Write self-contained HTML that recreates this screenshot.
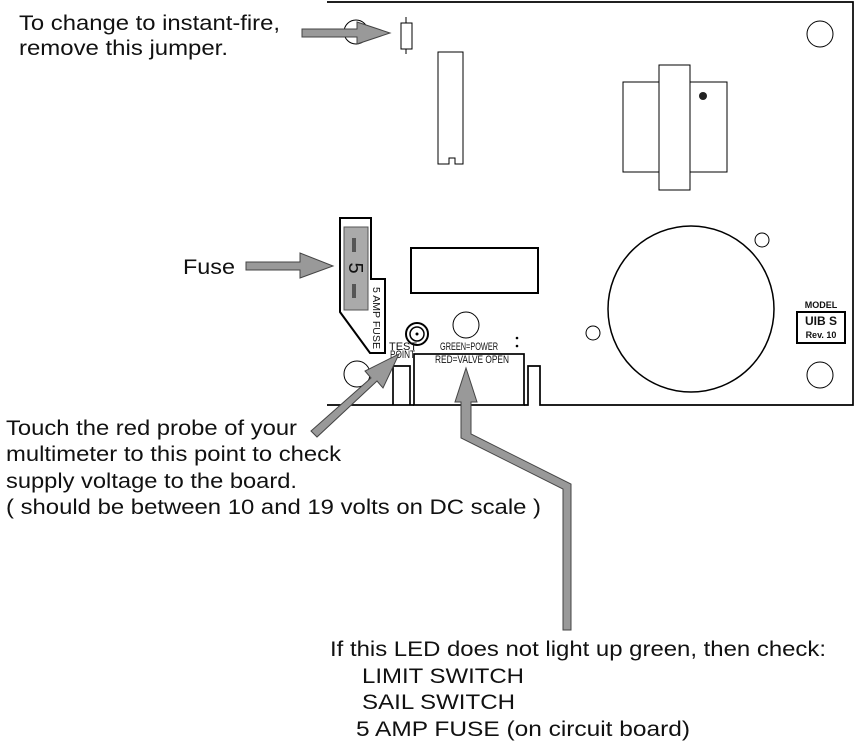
<!DOCTYPE html>
<html><head><meta charset="utf-8"><style>
html,body{margin:0;padding:0;background:#fff;}
svg{display:block;}
.t{font-family:"Liberation Sans",Arial,sans-serif;font-size:21px;fill:#111;}
.s{font-family:"Liberation Sans",Arial,sans-serif;fill:#111;}
</style></head><body>
<svg width="858" height="745" viewBox="0 0 858 745" xmlns="http://www.w3.org/2000/svg">
<path d="M327,2 H853 V405 H540 V366 H528 V405 H524 M414,405 H410 V366 H393 V405 H327 Z" fill="none" stroke="#000" stroke-width="1.7"/>
<rect x="414" y="354" width="110" height="51" fill="#fff" stroke="#000" stroke-width="1.7"/>
<circle cx="356" cy="32" r="12" fill="none" stroke="#000" stroke-width="1"/>
<circle cx="820" cy="34" r="13" fill="none" stroke="#000" stroke-width="1"/>
<circle cx="820" cy="375" r="13" fill="none" stroke="#000" stroke-width="1"/>
<circle cx="357" cy="374" r="13" fill="none" stroke="#000" stroke-width="1"/>
<circle cx="762" cy="240" r="7" fill="none" stroke="#000" stroke-width="1"/>
<circle cx="593" cy="333" r="7" fill="none" stroke="#000" stroke-width="1"/>
<circle cx="691" cy="309" r="83" fill="none" stroke="#000" stroke-width="1.5"/>
<line x1="406" y1="17" x2="406" y2="54" stroke="#000" stroke-width="1"/>
<rect x="401" y="23" width="11" height="26" fill="#fff" stroke="#000" stroke-width="1"/>
<path d="M438,52 H463 V164 H455 V158 H449 V164 H438 Z" fill="none" stroke="#000" stroke-width="1"/>
<rect x="623" y="82" width="104" height="90" fill="none" stroke="#000" stroke-width="1"/>
<rect x="659" y="65" width="31" height="125" fill="#fff" stroke="#000" stroke-width="1"/>
<circle cx="703" cy="96" r="4" fill="#222"/>
<rect x="411" y="248" width="127" height="45" fill="none" stroke="#000" stroke-width="2"/>
<path d="M340,218 H371 V279 H385 V353 H370 L340,312 Z" fill="#fff" stroke="#000" stroke-width="2"/>
<rect x="344" y="227" width="24" height="83" fill="#aaa" stroke="#555" stroke-width="1"/>
<rect x="352" y="238" width="4" height="14" fill="#555"/>
<rect x="352" y="284" width="4" height="14" fill="#555"/>
<text class="s" font-size="20" transform="translate(349,268) rotate(90)" text-anchor="middle">5</text>
<text class="s" font-size="10" transform="translate(373,287) rotate(90)" textLength="62" lengthAdjust="spacingAndGlyphs">5 AMP FUSE</text>
<circle cx="466" cy="325" r="13" fill="none" stroke="#000" stroke-width="1"/>
<circle cx="417" cy="334" r="11" fill="none" stroke="#000" stroke-width="2"/>
<circle cx="417" cy="334" r="7" fill="none" stroke="#000" stroke-width="1.5"/>
<circle cx="417" cy="334" r="1.5" fill="#000"/>
<text class="s" font-size="11" x="389" y="350" textLength="28" lengthAdjust="spacingAndGlyphs">TEST</text>
<text class="s" font-size="11" x="390" y="358" textLength="25" lengthAdjust="spacingAndGlyphs">POINT</text>
<text class="s" font-size="11" x="440" y="350" textLength="58" lengthAdjust="spacingAndGlyphs">GREEN=POWER</text>
<text class="s" font-size="11" x="435" y="363" textLength="74" lengthAdjust="spacingAndGlyphs">RED=VALVE OPEN</text>
<circle cx="517" cy="338" r="1.3" fill="#000"/>
<circle cx="517" cy="346" r="1.3" fill="#000"/>
<text class="s" font-size="9" font-weight="bold" x="821" y="308" text-anchor="middle">MODEL</text>
<rect x="797" y="312" width="48" height="31" fill="none" stroke="#000" stroke-width="2"/>
<text class="s" font-size="12" font-weight="bold" x="821" y="325" text-anchor="middle">UIB S</text>
<text class="s" font-size="9" font-weight="bold" x="821" y="338" text-anchor="middle">Rev. 10</text>
<g fill="#999" stroke="#444" stroke-width="1">
<path d="M302,29 H357 V22 L390,33 L357,44 V37 H302 Z"/>
<path d="M246,262 H300 V253 L333,266 L300,278 V270 H246 Z"/>
<path d="M311,431 L371,378 L365,371 L399,354 L383,388 L377,381 L317,437 Z"/>
<path d="M466,368 L477,402 H471 V434 L571,484 V630 H563 V489 L461,438 V402 H455 Z"/>
</g>
<text class="t" x="19" y="30" textLength="261" lengthAdjust="spacingAndGlyphs">To change to instant-fire,</text>
<text class="t" x="19" y="55" textLength="209" lengthAdjust="spacingAndGlyphs">remove this jumper.</text>
<text class="t" x="183" y="274" textLength="52" lengthAdjust="spacingAndGlyphs">Fuse</text>
<text class="t" x="6" y="435" textLength="291" lengthAdjust="spacingAndGlyphs">Touch the red probe of your</text>
<text class="t" x="6" y="461" textLength="335" lengthAdjust="spacingAndGlyphs">multimeter to this point to check</text>
<text class="t" x="6" y="488" textLength="291" lengthAdjust="spacingAndGlyphs">supply voltage to the board.</text>
<text class="t" x="6" y="514" textLength="535" lengthAdjust="spacingAndGlyphs">( should be between 10 and 19 volts on DC scale )</text>
<text class="t" x="330" y="656" textLength="496" lengthAdjust="spacingAndGlyphs">If this LED does not light up green, then check:</text>
<text class="t" x="362" y="683" textLength="162" lengthAdjust="spacingAndGlyphs">LIMIT SWITCH</text>
<text class="t" x="362" y="709" textLength="153" lengthAdjust="spacingAndGlyphs">SAIL SWITCH</text>
<text class="t" x="356" y="736" textLength="334" lengthAdjust="spacingAndGlyphs">5 AMP FUSE (on circuit board)</text>
</svg>
</body></html>
